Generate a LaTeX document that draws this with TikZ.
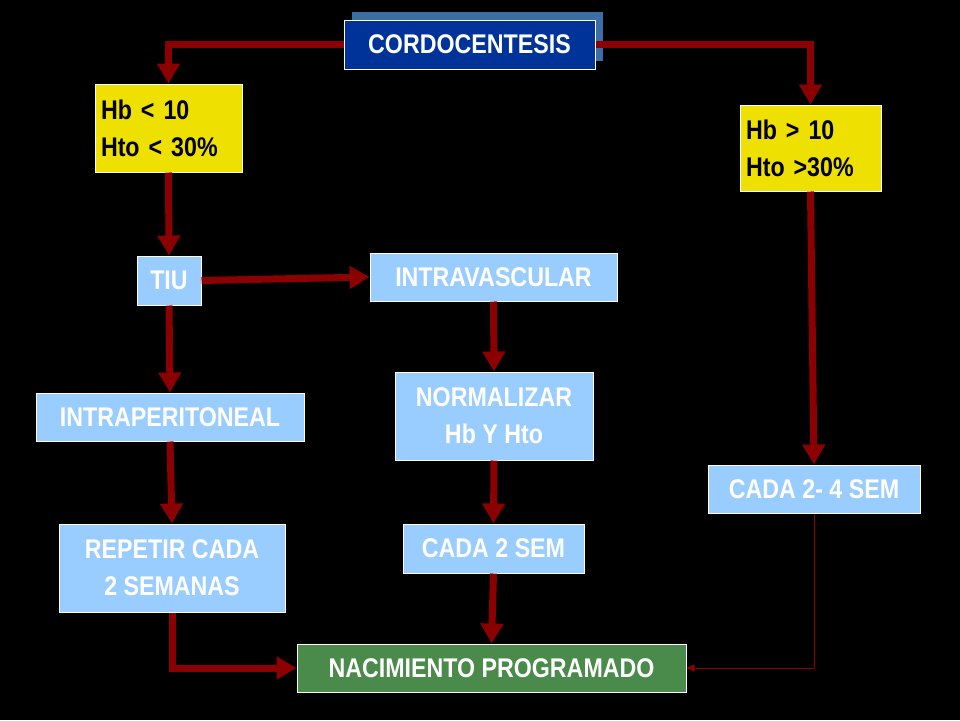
\documentclass[tikz,border=0pt]{standalone}
\usepackage{fontspec}
\setmainfont{Liberation Sans}[FakeStretch=0.86]
\usetikzlibrary{arrows.meta}
\definecolor{arr}{HTML}{8B0000}
\definecolor{lb}{HTML}{99CCFF}
\definecolor{db}{HTML}{003399}
\definecolor{sh}{HTML}{3A6EA5}
\definecolor{gr}{HTML}{4A8A4A}
\definecolor{ye}{HTML}{EEE000}
\begin{document}
\begin{tikzpicture}[x=1pt,y=-1pt,
  box/.style={draw=white,line width=1pt,inner sep=0pt,font=\fontsize{27}{37}\selectfont\bfseries,align=center},
  lbox/.style={box,fill=lb,text=white},
  ybox/.style={box,fill=ye,text=black,align=left},
  thick arr/.style={draw=arr,line width=7pt,-{Triangle[length=20pt,width=22pt]}},
  thin arr/.style={draw=arr,line width=1pt,-{Triangle[length=8pt,width=7pt]}}]
\fill[black] (0,0) rectangle (960,720);
\useasboundingbox (0,0) rectangle (960,720);
\fill[sh] (352,12) rectangle (603,61);
\node[box,fill=db,text=white,minimum width=251,minimum height=49] (cor) at (469.5,44.5) {CORDOCENTESIS};
\node[ybox,minimum width=147,minimum height=88,text width=135] (hl) at (168.5,128) {Hb < 10\\Hto < 30\%};
\node[ybox,minimum width=141,minimum height=86,text width=129] (hh) at (810.5,148) {Hb > 10\\Hto >30\%};
\node[lbox,minimum width=64,minimum height=49] (tiu) at (169,280.5) {TIU};
\node[lbox,minimum width=247,minimum height=48] (iv) at (493.5,277) {INTRAVASCULAR};
\node[lbox,minimum width=268,minimum height=48] (ip) at (170,417) {INTRAPERITONEAL};
\node[lbox,minimum width=198,minimum height=88] (nor) at (494,416) {NORMALIZAR\\Hb Y Hto};
\node[lbox,minimum width=212,minimum height=48] (c24) at (814,489) {CADA 2- 4 SEM};
\node[lbox,minimum width=226,minimum height=88] (rep) at (172,568) {REPETIR CADA\\2 SEMANAS};
\node[lbox,minimum width=181,minimum height=49] (c2) at (493.5,548.5) {CADA 2 SEM};
\node[box,fill=gr,text=white,minimum width=389,minimum height=48] (nac) at (491.5,668) {NACIMIENTO PROGRAMADO};
\draw[thick arr] (cor.west) -| (hl.north);
\draw[thick arr] (cor.east) -| (hh.north);
\draw[thick arr] (hl.south) -- (tiu.north);
\draw[thick arr] (tiu.east) -- (iv.west);
\draw[thick arr] (tiu.south) -- (ip.north);
\draw[thick arr] (ip.south) -- (rep.north);
\draw[thick arr] (rep.south) |- (nac.west);
\draw[thick arr] (iv.south) -- (nor.north);
\draw[thick arr] (nor.south) -- (c2.north);
\draw[thick arr] (c2.south) -- (nac.north);
\draw[thick arr] (hh.south) -- (c24.north);
\draw[thin arr] (c24.south) |- (nac.east);
\end{tikzpicture}
\end{document}
